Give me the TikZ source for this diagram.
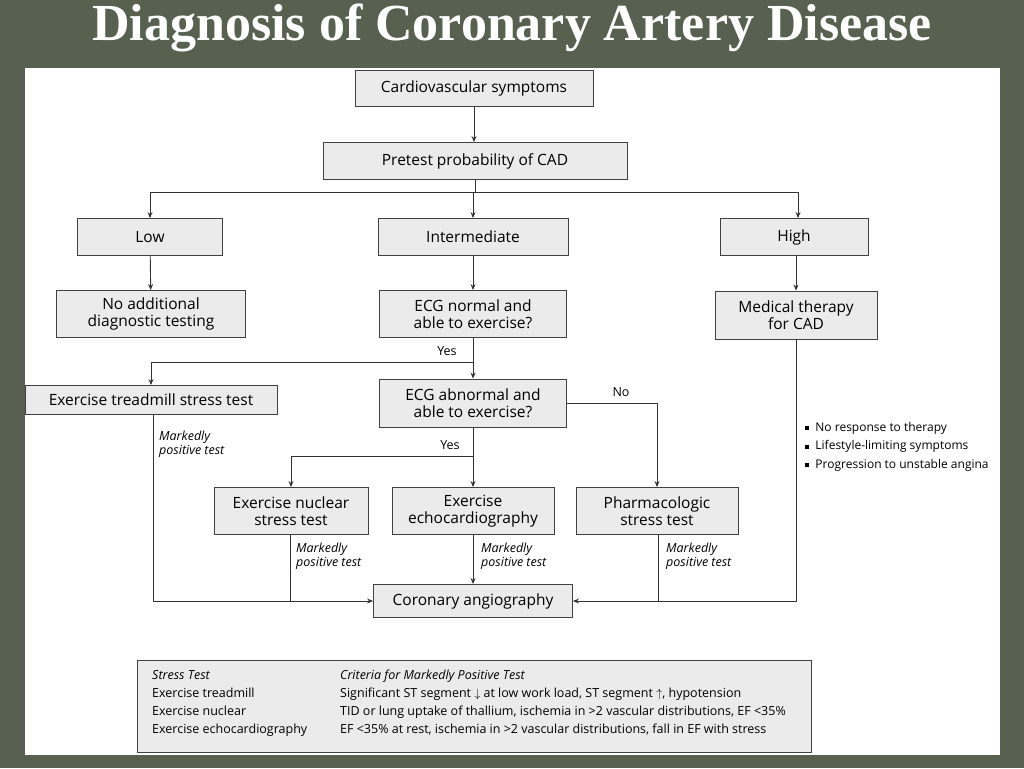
\documentclass[tikz,border=0pt]{standalone}
\usepackage{fontspec}
\setmainfont{Open Sans}
\newfontfamily\titlefont{Liberation Serif}
\usetikzlibrary{arrows.meta}
\newcommand{\sqb}{\rule[0.2ex]{4pt}{4pt}}
\begin{document}
\begin{tikzpicture}[x=1pt,y=-1pt,
 bx/.style={draw=black!75,fill=black!8,line width=0.9pt,inner sep=0pt,align=center,font=\fontsize{15.5}{17}\selectfont},
 ar/.style={draw=black!80,line width=0.9pt,-{Stealth[length=6pt,width=5pt]}},
 ln/.style={draw=black!80,line width=0.9pt},
 mk/.style={font=\itshape\fontsize{12.5}{13.5}\selectfont,align=left,anchor=north west,inner sep=0pt},
 yl/.style={font=\fontsize{12.5}{14}\selectfont}]
\fill[fill={rgb,255:red,88;green,96;blue,80}] (0,0) rectangle (1024,768);
\useasboundingbox (0,0) rectangle (1024,768);
\fill[white] (25,68) rectangle (1000,755);
\node[font=\titlefont\bfseries\fontsize{52}{56}\selectfont,text=white] (title) at (512,28) {Diagnosis of Coronary Artery Disease};
\node[bx,minimum width=238,minimum height=36] (cs) at (474,88) {Cardiovascular symptoms};
\node[bx,minimum width=304,minimum height=37] (pp) at (475,161) {Pretest probability of CAD};
\node[bx,minimum width=145,minimum height=37] (low) at (150,237) {Low};
\node[bx,minimum width=190,minimum height=37] (int) at (473,237) {Intermediate};
\node[bx,minimum width=148,minimum height=37] (high) at (794,237) {High};
\node[bx,minimum width=189,minimum height=47] (noadd) at (151,314) {No additional\\diagnostic testing};
\node[bx,minimum width=187,minimum height=47] (ecgn) at (473,314) {ECG normal and\\able to exercise?};
\node[bx,minimum width=162,minimum height=48] (med) at (796,315) {Medical therapy\\for CAD};
\node[bx,minimum width=252,minimum height=29] (tread) at (151,400) {Exercise treadmill stress test};
\node[bx,minimum width=187,minimum height=48] (ecga) at (473,403) {ECG abnormal and\\able to exercise?};
\node[bx,minimum width=154,minimum height=47] (nuc) at (291,511) {Exercise nuclear\\stress test};
\node[bx,minimum width=162,minimum height=47] (echo) at (473,511) {Exercise\\echocardiography};
\node[bx,minimum width=162,minimum height=47] (pharm) at (657,511) {Pharmacologic\\stress test};
\node[bx,minimum width=199,minimum height=33] (ang) at (473,601) {Coronary angiography};
\coordinate (b1) at (475,192);
\draw[ar] (cs.south -| 474,0) -- (pp.north -| 474,0);
\draw[ln] (pp) -- (b1);
\draw[ar] (b1) -| (low);
\draw[ar] (b1) -| (high.north -| 798,0);
\draw[ar] (int.north |- b1) -- (int);
\draw[ar] (low) -- (noadd);
\draw[ar] (int) -- (ecgn);
\draw[ar] (high.south -| 796,0) -- (med);
\coordinate (b2) at (473,362);
\draw[ln] (ecgn) -- (b2);
\draw[ar] (b2) -- (ecga);
\draw[ar] (b2) -| (tread);
\node[yl] (yes1) at (447,351) {Yes};
\node[yl] (no1) at (621,392) {No};
\draw[ar] (ecga.east) -| (pharm);
\coordinate (b3) at (473,456);
\draw[ln] (ecga) -- (b3);
\draw[ar] (b3) -- (echo);
\draw[ar] (b3) -| (nuc);
\node[yl] (yes2) at (450,445) {Yes};
\draw[ar] (tread.south -| 153,0) |- (ang.west);
\draw[ln] (nuc.south -| 290,0) -- (290,601);
\draw[ar] (echo) -- (ang);
\draw[ar] (pharm.south -| 658,0) |- (ang.east);
\draw[ln] (med.south) |- (658,601);
\node[mk] (m1) at (159,431) {Markedly\\positive test};
\node[mk] (m2) at (296,543) {Markedly\\positive test};
\node[mk] (m3) at (481,543) {Markedly\\positive test};
\node[mk] (m4) at (666,543) {Markedly\\positive test};
\node[anchor=north west,font=\fontsize{12}{18.5}\selectfont,align=left,inner sep=0pt] (bul) at (805,422) {\sqb\ \ No response to therapy\\\sqb\ \ Lifestyle-limiting symptoms\\\sqb\ \ Progression to unstable angina};
\fill[fill={rgb,255:red,88;green,96;blue,80}] (1000,0) rectangle (1024,768);
\node[draw=black!75,fill=black!8,line width=0.9pt,minimum width=674,minimum height=92,inner sep=0pt] (tab) at (474,706) {};
\node[anchor=north west,inner sep=0pt,font=\fontsize{12.5}{18}\selectfont,align=left] (tc1) at (152,670) {\textit{Stress Test}\\Exercise treadmill\\Exercise nuclear\\Exercise echocardiography};
\node[anchor=north west,inner sep=0pt,font=\fontsize{12.5}{18}\selectfont,align=left] (tc2) at (340,670) {\textit{Criteria for Markedly Positive Test}\\Significant ST segment $\downarrow$ at low work load, ST segment $\uparrow$, hypotension\\TID or lung uptake of thallium, ischemia in >2 vascular distributions, EF <35\%\\EF <35\% at rest, ischemia in >2 vascular distributions, fall in EF with stress};
\end{tikzpicture}
\end{document}
